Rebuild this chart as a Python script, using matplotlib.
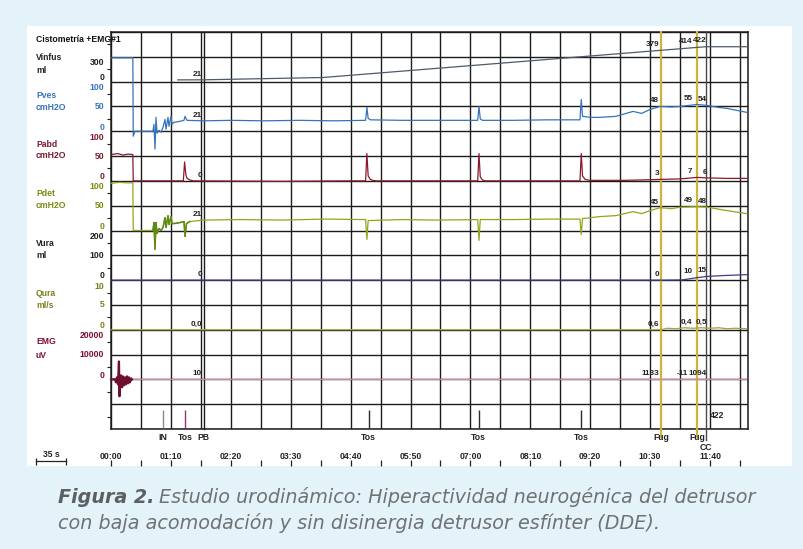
import numpy as np
import matplotlib.pyplot as plt
from matplotlib.patches import Rectangle

W_PX, H_PX = 804, 549

# ---- data: time in seconds, values in channel units ----
vinfus_t = [78, 108.5, 248, 643, 685, 695, 743]
vinfus_v = [21, 22, 50, 379, 414, 422, 422]

pves_t = [0, 25.5, 26, 28, 49, 50.2, 51.4, 52.6, 53.8, 56, 58.4, 60.8, 63.1, 64.3, 66.6,
          67.8, 70.1, 71.3, 73.6, 80.6, 85.3, 86.5, 88.8, 108.5, 140, 180, 220, 260, 297.5,
          299, 300.5, 303, 340, 380, 428.5, 430, 431.5, 434, 470, 510, 548, 549.5, 551,
          560, 571, 590, 610, 620, 630, 641.6, 655, 665, 675, 685, 696.6, 710, 720, 743]
pves_v = [148, 148, -10, 0, 0, 14, -36, 28, -4, 2, -2, 8, 24, 4, 28,
          10, 30, 14, 18, 20, 22, 30, 22, 21, 22, 21, 22, 21, 22,
          48, 26, 23, 22, 22, 22, 50, 25, 22, 22, 23, 23, 64, 30,
          28, 28, 30, 40, 36, 44, 50, 49, 50, 52, 54, 52, 48, 46, 38]

pabd_t = [0, 8, 14, 20, 25.5, 26, 84.5, 86, 87.5, 89, 92, 96, 200, 280, 297.5,
          299, 300.5, 303, 306, 310, 428.5, 430, 431.5, 434, 437, 548, 549.5, 551, 554,
          560, 600, 643, 665, 685, 696, 720, 743]
pabd_v = [53, 55, 52, 54, 53, 0, 0, 38, 12, 5, 2, 0, -1, 0, 0,
          55, 10, 3, 1, 0, 0, 55, 8, 2, 0, 0, 55, 10, 3,
          1, 1, 3, 4, 7, 6, 5, 5]

pdet_t = [0, 10, 20, 25.5, 26, 49, 50.2, 51.4, 52.6, 53.8, 56, 58.4, 60.8, 63.1, 64.3,
          66.6, 67.8, 70.1, 71.3, 73.6, 80.6, 85.3, 86.5, 88.2, 92, 108.5, 150, 200, 250,
          297.5, 299, 300.5, 340, 380, 428.5, 430, 431.5, 470, 510, 548, 549.5, 551, 571,
          590, 610, 620, 630, 641.6, 655, 665, 685, 696.6, 720, 743]
pdet_v = [95, 97, 96, 96, 0, 0, 16, -38, 16, -6, 4, 0, 6, 26, 6,
          30, 12, 28, 14, 14, 16, 18, -12, 14, 18, 21, 22, 21, 23,
          22, -18, 20, 22, 21, 22, -20, 22, 22, 23, 23, -8, 24, 28,
          30, 38, 34, 40, 46, 44, 47, 48, 47, 40, 34]

vura_t = [0, 650, 668, 685, 696.6, 720, 743]
vura_v = [0, 0, 1, 10, 15, 19, 22]

qura_t = [0, 643, 650, 660, 670, 680, 690, 700, 710, 720, 730, 743]
qura_v = [0, 0, 0.3, 0.2, 0.4, 0.3, 0.4, 0.3, 0.4, 0.2, 0.3, 0.2]

emg_t = [0, 4.7, 5.8, 7, 8.2, 9.3, 9.9, 10.5, 11.7, 12.9, 14, 15.2, 16.4, 17.5, 18.7,
         19.9, 21, 22.2, 23.4, 24.5, 743]
emg_v = [0, 0, -1200, 800, -2000, 7200, -6800, -1600, 1600, -3200, 1200, -2400, 800, -2000, 1200,
         -1600, 800, -1200, 400, 0, 0]

# events (s)
short_t = [60.7, 86.5, 301, 429.5, 549.5]
short_lbl = ["IN", "Tos", "Tos", "Tos", "Tos"]
full_t = [108.5, 642.8, 684.8, 695.3]
full_lbl = ["PB", "Fug", "Fug", "CC"]

# values printed at PB, Fug, Fug, CC
note_times = [108.5, 642.8, 684.8, 695.3]
vinfus_notes = ["21", "379", "414", "422"]
pves_notes = ["21", "48", "55", "54"]
pabd_notes = ["0", "3", "7", "6"]
pdet_notes = ["21", "45", "49", "48"]
vura_notes = ["0", "0", "10", "15"]
qura_notes = ["0,0", "0,6", "0,4", "0,5"]
emg_notes = ["10", "1133", "-11", "1094"]

time_labels = ["00:00", "01:10", "02:20", "03:30", "04:40", "05:50",
               "07:00", "08:10", "09:20", "10:30", "11:40"]

channels = [
    dict(name="Vinfus", unit="ml", top=600, ticks=[300, 0], t=vinfus_t, v=vinfus_v,
         notes=vinfus_notes, color="#4d5b68", tcol="#222222"),
    dict(name="Pves", unit="cmH2O", top=100, ticks=[100, 50, 0], t=pves_t, v=pves_v,
         notes=pves_notes, color="#3673bb", tcol="#3673bb"),
    dict(name="Pabd", unit="cmH2O", top=100, ticks=[100, 50, 0], t=pabd_t, v=pabd_v,
         notes=pabd_notes, color="#8a1a2c", tcol="#7a1a2a"),
    dict(name="Pdet", unit="cmH2O", top=100, ticks=[100, 50, 0], t=pdet_t, v=pdet_v,
         notes=pdet_notes, color="#93a61a", tcol="#7d8a10"),
    dict(name="Vura", unit="ml", top=200, ticks=[200, 100, 0], t=vura_t, v=vura_v,
         notes=vura_notes, color="#3c3c8c", tcol="#222222"),
    dict(name="Qura", unit="ml/s", top=10, ticks=[10, 5, 0], t=qura_t, v=qura_v,
         notes=qura_notes, color="#a3a33a", tcol="#7d7d20"),
    dict(name="EMG", unit="uV", top=20000, ticks=[20000, 10000, 0], t=emg_t, v=emg_v,
         notes=emg_notes, color="#c98aa8", tcol="#7a1030"),
]
name_y = [(57, 70), (95, 107), (144, 156), (193, 206), (243, 256), (293, 305), (342, 355)]


def px(x, y):
    return x / W_PX, 1 - y / H_PX


plt.rcParams['font.family'] = ['Liberation Sans', 'DejaVu Sans']
fig = plt.figure(figsize=(W_PX / 100, H_PX / 100), dpi=100, facecolor="#e3f3f9")
fig.patches.append(Rectangle(px(27, 466), 765 / W_PX, 440 / H_PX, transform=fig.transFigure,
                             facecolor="white", edgecolor="none", zorder=-5))

# chart frame in pixels
x0, x1, y0, y1 = 111, 748, 32, 429
L, B = x0 / W_PX, 1 - y1 / H_PX
Wd, Hd = (x1 - x0) / W_PX, (y1 - y0) / H_PX
T_MAX = (x1 - x0) * 735 / 629
GRID = "#1c1c1c"

ax = fig.add_axes([L, B, Wd, Hd])
ax.set_facecolor("none")
ax.set_xlim(0, T_MAX)
ax.set_ylim(0, 16)
ax.set_xticks(np.arange(0, T_MAX, 35))
ax.set_yticks(range(17))
ax.grid(True, color=GRID, lw=1.0)
ax.set_yticks(np.arange(0.5, 16, 0.5), minor=True)
ax.tick_params(which="major", bottom=False, left=False, labelbottom=False, labelleft=False)
ax.tick_params(which="minor", bottom=False, left=True, length=3, width=0.8, direction="out", color=GRID)
for s in ax.spines.values():
    s.set_color(GRID)
    s.set_linewidth(1.1)

# full-height event lines
full_col = {"PB": "#1c1c1c", "Fug": "#cdb53a", "CC": "#4a4a4a"}
full_lo = {"PB": 0, "Fug": -0.02, "CC": -0.028}
for t, lbl in zip(full_t, full_lbl):
    ax.axvline(t, ymin=full_lo[lbl], ymax=1, color=full_col[lbl],
               lw=1.6 if lbl == "Fug" else 1.0, clip_on=False, zorder=3)

fs = 6.2
note_dx = [-1.3, -1.3, -3.2, 0.6]
for k, ch in enumerate(channels):
    cax = fig.add_axes([L, B + Hd * (14 - 2 * k) / 16, Wd, Hd * 2 / 16])
    cax.set_xlim(0, T_MAX)
    cax.set_ylim(0, ch["top"])
    cax.axis("off")
    cax.plot(ch["t"], ch["v"], color=ch["color"], lw=0.9, clip_on=False, zorder=4)
    if ch["name"] == "EMG":
        cax.plot(ch["t"][:20], ch["v"][:20], color="#6e0f2e", lw=1.6, clip_on=False, zorder=5)
    if ch["name"] == "Pdet":
        cax.plot(ch["t"][5:25], ch["v"][5:25], color="#5f8a14", lw=1.1, clip_on=False, zorder=5)

    # scale numbers on the left
    for val in ch["ticks"]:
        if val == 0:
            dy = 3
        elif val == ch["top"] or (ch["name"] == "Vinfus"):
            dy = -4.3
        else:
            dy = 0
        cax.annotate(str(val), xy=(0, val), xycoords=cax.get_yaxis_transform(),
                     xytext=(-5, dy), textcoords="offset points", ha="right", va="center",
                     fontsize=fs, fontweight="bold", color=ch["tcol"], annotation_clip=False)

    # printed values at events
    for j, (t, txt, dx) in enumerate(zip(note_times, ch["notes"], note_dx)):
        if ch["name"] == "EMG" and j == 2:
            dx -= 3.5
        yv = np.interp(t, ch["t"], ch["v"])
        cax.annotate(txt, xy=(t, yv), xytext=(dx, 1.6), textcoords="offset points",
                     ha="right", va="bottom", fontsize=fs - 0.3, fontweight="bold",
                     color="#222222", annotation_clip=False, zorder=6)

    ny1, ny2 = name_y[k]
    fig.text(*px(36, ny1), ch["name"], fontsize=fs, fontweight="bold", color=ch["tcol"], va="center")
    fig.text(*px(36, ny2), ch["unit"], fontsize=fs, fontweight="bold", color=ch["tcol"], va="center")

fig.text(*px(36, 40), "Cistometría +EMG#1", fontsize=fs, fontweight="bold", color="#111111", va="center")

# event marker row
max_ = fig.add_axes([L, B, Wd, Hd * 2 / 16])
max_.set_xlim(0, T_MAX)
max_.set_ylim(0, 2)
max_.axis("off")
short_col = ["#8a8a8a", "#a0306e", "#2a2a2a", "#2a2a2a", "#2a2a2a"]
for t, lbl, c in zip(short_t, short_lbl, short_col):
    max_.vlines(t, 0.05, 0.78, color=c, lw=1.0)
for t, lbl in zip(short_t + full_t, short_lbl + full_lbl):
    dy = -13.5 if lbl == "CC" else -5.8
    max_.annotate(lbl, xy=(t, 0), xytext=(0, dy), textcoords="offset points", ha="center",
                  va="center", fontsize=fs, fontweight="bold", color="#222222", annotation_clip=False)
max_.annotate(vinfus_notes[-1], xy=(full_t[-1], 0.55), xytext=(2.5, 0), textcoords="offset points",
              ha="left", va="center", fontsize=fs, fontweight="bold", color="#222222")

# time axis
tax = fig.add_axes([L, 1 - 466 / H_PX, Wd, 6 / H_PX])
tax.set_xlim(0, T_MAX)
tax.set_ylim(0, 1)
tax.axis("off")
tick_t = np.arange(0, 736, 35)
tax.vlines(tick_t, 0, 1, color="#222222", lw=0.9, clip_on=False)
for i, lbl in enumerate(time_labels):
    tax.text(70 * i, 1.6, lbl, ha="center", va="center", fontsize=fs, fontweight="bold",
             color="#222222", clip_on=False)
bar0 = -87.5
tax.plot([bar0, bar0 + 35], [0.83, 0.83], color="#222222", lw=0.9, clip_on=False)
tax.vlines([bar0, bar0 + 35], 0.17, 1.33, color="#222222", lw=0.9, clip_on=False)
tax.text(bar0 + 17.5, 1.95, "35 s", ha="center", va="center", fontsize=fs, fontweight="bold",
         color="#222222", clip_on=False)

# caption
cap_col = "#6f7274"
cap_fs = 13.8
cap_font = ["DejaVu Sans"]
t1 = fig.text(*px(58, 503), "Figura 2.", fontsize=cap_fs, fontstyle="italic", fontweight="bold",
              color="#5d6062", va="baseline", family=cap_font)
fig.canvas.draw()
bb = t1.get_window_extent()
fig.text((bb.x1 + 5) / W_PX, 1 - 503 / H_PX,
         "Estudio urodinámico: Hiperactividad neurogénica del detrusor",
         fontsize=cap_fs, fontstyle="italic", color=cap_col, va="baseline", family=cap_font)
fig.text(*px(58, 529), "con baja acomodación y sin disinergia detrusor esfínter (DDE).",
         fontsize=cap_fs, fontstyle="italic", color=cap_col, va="baseline", family=cap_font)

fig.savefig("out.png", dpi=100, facecolor=fig.get_facecolor())
